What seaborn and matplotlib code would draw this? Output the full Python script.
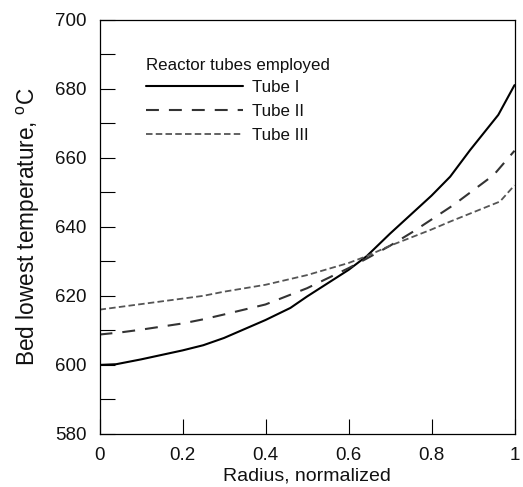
import numpy as np
import pandas as pd
import matplotlib
matplotlib.use("Agg")
import matplotlib.pyplot as plt
import seaborn as sns
from matplotlib.ticker import MultipleLocator, FormatStrFormatter
from matplotlib.lines import Line2D

# ---- data ----
x_tube1 = [0.0, 0.04, 0.1, 0.2, 0.25, 0.3, 0.4, 0.46, 0.5, 0.6, 0.644, 0.7, 0.8, 0.845, 0.893, 0.961, 1.0]
y_tube1 = [600.0, 600.2, 601.6, 604.2, 605.7, 607.8, 613.0, 616.5, 619.8, 627.5, 631.5, 638.0, 649.0, 654.5, 662.2, 672.4, 681.0]

x_tube2 = [0.0, 0.05, 0.1, 0.2, 0.25, 0.3, 0.4, 0.5, 0.6, 0.644, 0.7, 0.756, 0.853, 0.95, 1.0]
y_tube2 = [608.8, 609.4, 610.2, 612.0, 613.2, 614.6, 617.5, 622.2, 628.0, 630.8, 634.5, 638.6, 646.3, 655.0, 662.0]

x_tube3 = [0.0, 0.1, 0.2, 0.25, 0.3, 0.4, 0.5, 0.6, 0.644, 0.7, 0.8, 0.845, 0.965, 1.0]
y_tube3 = [616.0, 617.6, 619.2, 620.0, 621.2, 623.2, 626.0, 629.5, 631.5, 634.5, 639.2, 641.5, 647.3, 652.0]

series_names = ["Tube I", "Tube II", "Tube III"]
legend_title = "Reactor tubes employed"
x_label = "Radius, normalized"
y_label = "Bed lowest temperature, $^{\\mathrm{o}}$C"

df = pd.concat([
    pd.DataFrame({"x": x_tube1, "y": y_tube1, "tube": "Tube I"}),
    pd.DataFrame({"x": x_tube2, "y": y_tube2, "tube": "Tube II"}),
    pd.DataFrame({"x": x_tube3, "y": y_tube3, "tube": "Tube III"}),
], ignore_index=True)

sns.set_style("ticks")
plt.rcParams['font.family'] = ['Liberation Sans', 'DejaVu Sans']
plt.rcParams['mathtext.fontset'] = 'custom'
plt.rcParams['mathtext.rm'] = 'Liberation Sans'

fig = plt.figure(figsize=(5.23, 4.87), dpi=100)
ax = fig.add_axes([99.5/523, 1 - 434/487, 415/523, 414.5/487])

colors = {"Tube I": "#000000", "Tube II": "#333333", "Tube III": "#555555"}
dashes = {"Tube I": "", "Tube II": (6.2, 4.8), "Tube III": (3.6, 1.8)}
widths = {"Tube I": 1.5, "Tube II": 1.5, "Tube III": 1.3}

sns.lineplot(data=df, x="x", y="y", hue="tube", style="tube",
             palette=colors, dashes=dashes, sort=False, estimator=None,
             ax=ax, legend=False, linewidth=1.5)
for line, name in zip(ax.get_lines(), series_names):
    line.set_linewidth(widths[name])

ax.set_xlim(0, 1)
ax.set_ylim(580, 700)
ax.xaxis.set_major_locator(MultipleLocator(0.2))
ax.yaxis.set_major_locator(MultipleLocator(20))
ax.yaxis.set_minor_locator(MultipleLocator(10))
ax.xaxis.set_major_formatter(FormatStrFormatter('%g'))
ax.tick_params(axis='both', which='both', direction='in', length=11, width=0.8,
               color='black', labelsize=13.5, top=False, right=False,
               labelcolor='#111111')
ax.tick_params(axis='x', pad=9)
ax.tick_params(axis='y', pad=9.5)
for s in ax.spines.values():
    s.set_visible(True)
    s.set_color('black')
    s.set_linewidth(0.9)

ax.set_xlabel(x_label, fontsize=14, labelpad=3, color='#111111')
ax.set_ylabel(y_label, fontsize=16.3, labelpad=9.5, color='#111111')

handles = [Line2D([], [], color=colors[n], lw=widths[n],
                  linestyle=(0, dashes[n]) if dashes[n] else '-') for n in series_names]
leg = ax.legend(handles, series_names, title=legend_title, loc='upper left',
                bbox_to_anchor=(0.112, 0.906), frameon=False, fontsize=12.2,
                title_fontsize=12.2, handlelength=5.7, handletextpad=0.55,
                labelspacing=0.52, borderaxespad=0, borderpad=0)
leg._legend_box.align = "left"
leg._legend_box.sep = 5
for t in leg.get_texts():
    t.set_color('#111111')
leg.get_title().set_color('#111111')

fig.savefig("out.png", dpi=100)
